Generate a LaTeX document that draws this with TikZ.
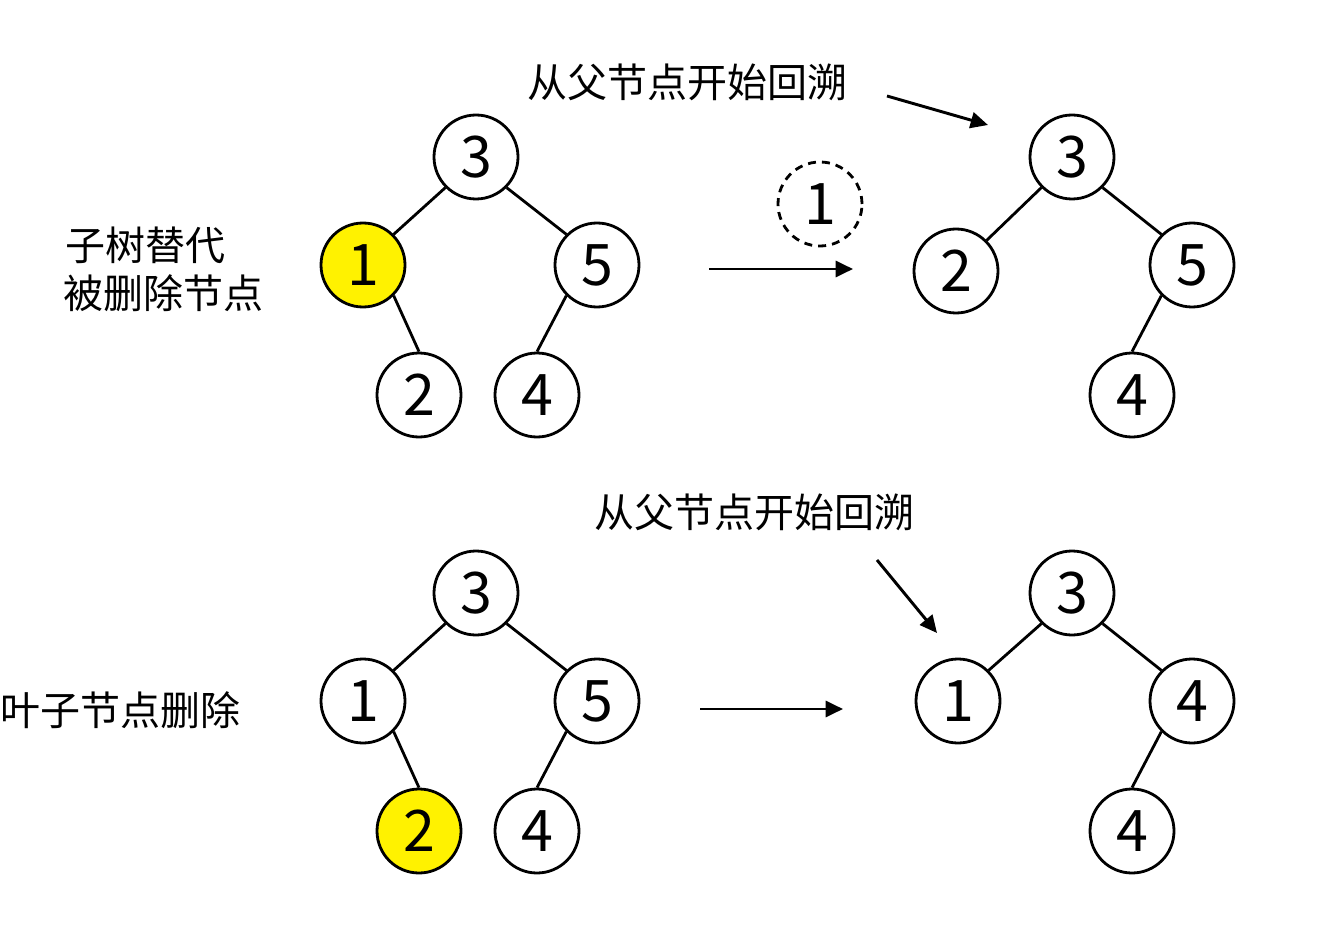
\documentclass[tikz,border=0pt]{standalone}
\usepackage{fontspec}
\setmainfont{Noto Sans CJK SC}
\newfontfamily\cjk{Noto Sans CJK SC}
\usetikzlibrary{arrows.meta}
\tikzset{
  tn/.style={circle,draw=black,line width=2.1pt,minimum size=63pt,inner sep=0pt,fill=white,font=\fontsize{43}{43}\selectfont},
  hl/.style={tn,fill=yellow},
  gone/.style={tn,dashed,dash pattern=on 6pt off 4.5pt,fill=none},
  edge/.style={line width=2.1pt},
  arr/.style={line width=2.2pt,-{Triangle[length=13pt,width=12pt]}},
  lbl/.style={font=\cjk\fontsize{30}{30}\selectfont,inner sep=0pt}
}
\begin{document}
\begin{tikzpicture}[x=0.75pt,y=-0.75pt]
\useasboundingbox (0,0) rectangle (1338,927);
% top left tree
\node[tn] (a3) at (476,157) {3};
\node[hl] (a1) at (363,265) {1};
\node[tn] (a5) at (597,265) {5};
\node[tn] (a2) at (419,395) {2};
\node[tn] (a4) at (537,395) {4};
\draw[edge] (a3.-135)--(a1.45) (a3.-45)--(a5.135) (a1.-45)--(a2.north) (a5.-135)--(a4.north);
% removed
\node[gone] (d1) at (820,204) {1};
\coordinate (t1s) at (709,269);
\coordinate (t1e) at (853,269);
\draw[arr] (t1s)--(t1e);
\node[lbl] (tt) at (687,82) {从父节点开始回溯};
\coordinate (p1s) at (887,96);
\coordinate (p1e) at (988,125);
\draw[arr] (p1s)--(p1e);
% top right tree
\node[tn] (b3) at (1072,157) {3};
\node[tn] (b2) at (956,271) {2};
\node[tn] (b5) at (1192,265) {5};
\node[tn] (b4) at (1132,395) {4};
\draw[edge] (b3.-135)--(b2.45) (b3.-45)--(b5.135) (b5.-135)--(b4.north);
% labels
\node[lbl,anchor=west] (l1) at (65,245) {子树替代};
\node[lbl,anchor=west] (l2) at (63,293) {被删除节点};
\node[lbl,anchor=west] (l3) at (0,710) {叶子节点删除};
% bottom left tree
\node[tn] (c3) at (476,593) {3};
\node[tn] (c1) at (363,701) {1};
\node[tn] (c5) at (597,701) {5};
\node[hl] (c2) at (419,831) {2};
\node[tn] (c4) at (537,831) {4};
\draw[edge] (c3.-135)--(c1.45) (c3.-45)--(c5.135) (c1.-45)--(c2.north) (c5.-135)--(c4.north);
\coordinate (t2s) at (700,709);
\coordinate (t2e) at (843,709);
\draw[arr] (t2s)--(t2e);
\node[lbl] (bt) at (754,512) {从父节点开始回溯};
\coordinate (p2s) at (877,560);
\coordinate (p2e) at (937,633);
\draw[arr] (p2s)--(p2e);
% bottom right tree
\node[tn] (e3) at (1072,593) {3};
\node[tn] (e1) at (958,701) {1};
\node[tn] (e4) at (1192,701) {4};
\node[tn] (e4b) at (1132,831) {4};
\draw[edge] (e3.-135)--(e1.45) (e3.-45)--(e4.135) (e4.-135)--(e4b.north);
\end{tikzpicture}
\end{document}
